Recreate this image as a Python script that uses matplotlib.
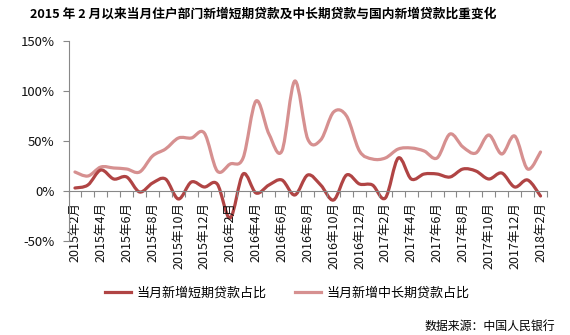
import numpy as np
import matplotlib
matplotlib.use("Agg")
import matplotlib.pyplot as plt
from matplotlib.path import Path
from matplotlib.patches import PathPatch
from matplotlib.lines import Line2D

plt.rcParams['font.family'] = ['Noto Sans CJK SC', 'DejaVu Sans']

# monthly data, 2015-02 .. 2018-02
months = []
for y in (2015, 2016, 2017, 2018):
    for m in range(1, 13):
        if (y == 2015 and m < 2) or (y == 2018 and m > 2):
            continue
        months.append(f"{y}年{m}月")

short_term = [3, 6, 21, 12, 14, -1, 8, 12, -8, 9, 4, 7, -27, 17, -2, 6, 11, -4,
              16, 6, -9, 16, 7, 6, -7, 33, 12, 17, 17, 14, 22, 20, 12, 18, 4, 11, -5]
long_term = [19, 15, 24, 23, 22, 19, 35, 42, 53, 53, 58, 20, 27, 33, 90, 57, 40, 110,
             52, 51, 79, 75, 40, 32, 33, 42, 43, 40, 33, 57, 44, 38, 56, 37, 55, 22, 39]

c_short = '#B04444'
c_long = '#D69090'


def smooth_path(xs, ys):
    # catmull-rom style bezier through the points (Excel "smoothed line")
    pts = np.column_stack([xs, ys]).astype(float)
    verts = [pts[0]]
    codes = [Path.MOVETO]
    n = len(pts)
    for i in range(n - 1):
        p0 = pts[i - 1] if i > 0 else pts[i]
        p1 = pts[i]
        p2 = pts[i + 1]
        p3 = pts[i + 2] if i + 2 < n else pts[i + 1]
        c1 = p1 + (p2 - p0) / 6.0
        c2 = p2 - (p3 - p1) / 6.0
        verts += [c1, c2, p2]
        codes += [Path.CURVE4] * 3
    return Path(verts, codes)


fig = plt.figure(figsize=(5.7, 3.35), dpi=100)
ax = fig.add_axes([68.5 / 570, 1 - 241 / 335, (547 - 68.5) / 570, 200 / 335])

x = np.arange(len(months))
for vals, col in ((long_term, c_long), (short_term, c_short)):
    ax.add_patch(PathPatch(smooth_path(x, vals), fill=False, edgecolor=col,
                           lw=2.3, capstyle='round', joinstyle='round'))

ax.set_xlim(-0.5, len(months) - 0.5)
ax.set_ylim(-50, 150)
ax.set_yticks([-50, 0, 50, 100, 150])
ax.set_yticklabels([f"{v}%" for v in [-50, 0, 50, 100, 150]])

ax.spines['top'].set_visible(False)
ax.spines['right'].set_visible(False)
ax.spines['bottom'].set_position(('data', 0))
for s in ('left', 'bottom'):
    ax.spines[s].set_color('#888888')
    ax.spines[s].set_linewidth(0.8)

ax.set_xticks(x[::2])
ax.set_xticklabels(months[::2], rotation=90, va='top', ha='center')
ax.set_xticks(np.arange(-0.5, len(months), 1), minor=True)
ax.tick_params(axis='x', which='major', length=0, pad=8, labelsize=9, colors='#111111')
ax.tick_params(axis='x', which='minor', length=4, color='#888888', width=0.8)
ax.tick_params(axis='y', length=4, color='#888888', width=0.8, labelsize=9.5,
               labelcolor='#111111', pad=6)

fig.text(263 / 570, 1 - 14 / 335, '2015 年 2 月以来当月住户部门新增短期贷款及中长期贷款与国内新增贷款比重变化',
         ha='center', va='center', fontsize=9.15, fontweight='bold', color='#000000')

handles = [Line2D([], [], color=c_short, lw=2.3),
           Line2D([], [], color=c_long, lw=2.3)]
fig.legend(handles, ['当月新增短期贷款占比', '当月新增中长期贷款占比'],
           loc='center', bbox_to_anchor=(287 / 570, 1 - 293 / 335), ncol=2,
           frameon=False, fontsize=9.4, handlelength=2.0, handletextpad=0.4,
           columnspacing=2.2)

fig.text(555 / 570, 1 - 326 / 335, '数据来源：中国人民银行', ha='right', va='center',
         fontsize=8.6, color='#000000')

fig.savefig('out.png', dpi=100)
